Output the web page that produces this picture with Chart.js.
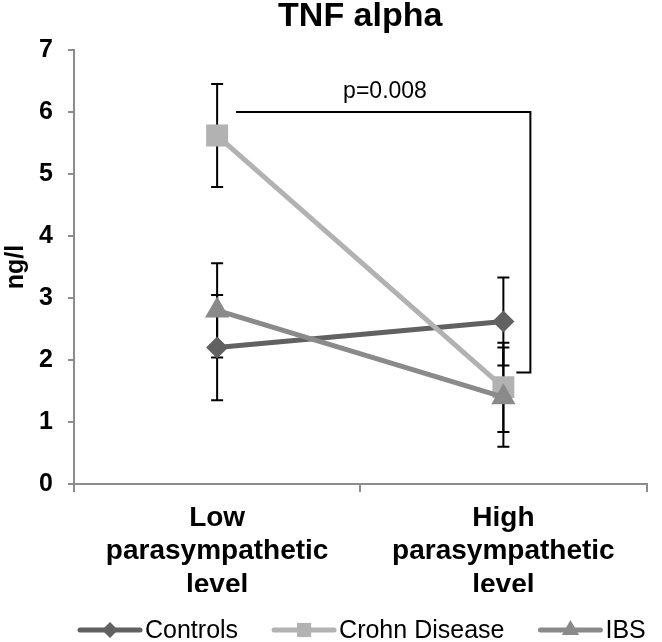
<!DOCTYPE html>
<html>
<head>
<meta charset="utf-8">
<script src="https://cdn.jsdelivr.net/npm/chart.js@4"></script>
<style>
  html, body { margin: 0; padding: 0; background: #fff; }
  .chart-container { position: relative; width: 662px; height: 642px; }
</style>
</head>
<body>
<div class="chart-container">
  <canvas id="tnf-chart"></canvas>
</div>
<script>
// values
const categories = [['Low', 'parasympathetic', 'level'], ['High', 'parasympathetic', 'level']];
const yTicks = [0, 1, 2, 3, 4, 5, 6, 7];
const controls = [2.2, 2.62];
const controlsErr = [0.85, 0.71];
const crohn = [5.62, 1.56];
const crohnErr = [0.83, 0.72];
const ibs = [2.8, 1.4];
const ibsErr = [0.76, 0.8];
const pLabel = 'p=0.008';

const FONT = 'Arial, "Liberation Sans", sans-serif';

function drawMarker(ctx, style, r, cx, cy) {
  if (style === 'rectRot') {
    ctx.moveTo(cx, cy - r); ctx.lineTo(cx + r, cy); ctx.lineTo(cx, cy + r); ctx.lineTo(cx - r, cy); ctx.closePath();
  } else if (style === 'rect') {
    const s = r * Math.SQRT1_2;
    ctx.rect(cx - s, cy - s, 2 * s, 2 * s);
  } else {
    ctx.moveTo(cx, cy - r);
    ctx.lineTo(cx + r * Math.sin(Math.PI * 2 / 3), cy - r * Math.cos(Math.PI * 2 / 3));
    ctx.lineTo(cx + r * Math.sin(Math.PI * 4 / 3), cy - r * Math.cos(Math.PI * 4 / 3));
    ctx.closePath();
  }
}

// error bars under the markers
const errorBars = {
  id: 'errorBars',
  beforeDatasetsDraw(chart) {
    const { ctx, scales: { x, y } } = chart;
    const errs = [controlsErr, crohnErr, ibsErr];
    ctx.save();
    ctx.strokeStyle = '#000';
    ctx.lineWidth = 2;
    chart.data.datasets.forEach((ds, i) => {
      ds.data.forEach((v, j) => {
        const px = x.getPixelForValue(j);
        const top = y.getPixelForValue(v + errs[i][j]);
        const bot = y.getPixelForValue(v - errs[i][j]);
        ctx.beginPath();
        ctx.moveTo(px, top); ctx.lineTo(px, bot);
        ctx.moveTo(px - 6, top); ctx.lineTo(px + 6, top);
        ctx.moveTo(px - 6, bot); ctx.lineTo(px + 6, bot);
        ctx.stroke();
      });
    });
    ctx.restore();
  }
};

// significance bracket and legend
const extras = {
  id: 'extras',
  afterDraw(chart) {
    const { ctx, scales: { x, y } } = chart;
    const x0 = x.getPixelForValue(0);
    const x1 = x.getPixelForValue(1);
    const yTop = y.getPixelForValue(6.0);
    const yBot = y.getPixelForValue(1.8);
    ctx.save();
    ctx.strokeStyle = '#000';
    ctx.lineWidth = 2;
    ctx.beginPath();
    ctx.moveTo(x0 + 19, yTop);
    ctx.lineTo(x1 + 27, yTop);
    ctx.lineTo(x1 + 27, yBot);
    ctx.lineTo(x1 + 13, yBot);
    ctx.stroke();

    ctx.fillStyle = '#000';
    ctx.font = '23px ' + FONT;
    ctx.textAlign = 'center';
    ctx.textBaseline = 'middle';
    ctx.fillText(pLabel, 385, y.getPixelForValue(6.33));

    // legend: line with marker, then label
    ctx.font = '25px ' + FONT;
    ctx.textAlign = 'left';
    const lineLen = 60, gap = 36, ly = 630;
    let lx = 80;
    chart.data.datasets.forEach(ds => {
      ctx.strokeStyle = ds.borderColor;
      ctx.lineWidth = 5;
      ctx.lineCap = 'round';
      ctx.beginPath();
      ctx.moveTo(lx, ly); ctx.lineTo(lx + lineLen, ly);
      ctx.stroke();
      ctx.fillStyle = ds.backgroundColor;
      ctx.beginPath();
      drawMarker(ctx, ds.pointStyle, ds.legendRadius, lx + lineLen / 2, ly);
      ctx.fill();
      ctx.fillStyle = '#000';
      ctx.fillText(ds.label, lx + lineLen + 5, ly + 1);
      lx += lineLen + 5 + ctx.measureText(ds.label).width + gap;
    });
    ctx.restore();
  }
};

function series(label, data, color, style, radius, legendRadius, order) {
  return {
    label, data, order, legendRadius,
    borderColor: color,
    backgroundColor: color,
    pointBackgroundColor: color,
    pointBorderColor: color,
    borderWidth: 5,
    pointStyle: style,
    pointRadius: radius,
    pointBorderWidth: 0,
    pointHoverRadius: radius,
    tension: 0
  };
}

new Chart(document.getElementById('tnf-chart'), {
  type: 'line',
  data: {
    labels: categories,
    datasets: [
      series('Controls', controls, '#616161', 'rectRot', 11, 8, 2),
      series('Crohn Disease', crohn, '#b2b2b2', 'rect', 15.5, 10, 1),
      series('IBS', ibs, '#8a8a8a', 'triangle', 14, 10, 0)
    ]
  },
  options: {
    responsive: true,
    maintainAspectRatio: false,
    animation: false,
    layout: { padding: { top: 0, left: 0, right: 6, bottom: 50 } },
    plugins: {
      legend: { display: false },
      tooltip: { enabled: false },
      title: {
        display: true,
        text: 'TNF alpha',
        fullSize: false,
        color: '#000',
        font: { family: FONT, size: 34, weight: 'bold', lineHeight: 1 },
        padding: { top: 0, bottom: 16 }
      }
    },
    scales: {
      x: {
        offset: true,
        afterFit(scale) {
          scale.height = 108;
          scale.paddingLeft = 0;
          scale.paddingRight = 0;
        },
        grid: {
          offset: true,
          drawOnChartArea: false,
          drawTicks: true,
          tickLength: 8,
          color: '#8c8c8c',
          lineWidth: 2
        },
        border: { display: true, color: '#8c8c8c', width: 2 },
        ticks: {
          color: '#000',
          padding: 9,
          maxRotation: 0,
          autoSkip: false,
          font: { family: FONT, size: 28, weight: 'bold', lineHeight: 1.2 }
        }
      },
      y: {
        min: 0,
        max: 7,
        afterFit(scale) { scale.width = 74; },
        afterBuildTicks(scale) { scale.ticks = yTicks.map(v => ({ value: v })); },
        grid: {
          drawOnChartArea: false,
          drawTicks: true,
          tickLength: 6,
          color: '#8c8c8c',
          lineWidth: 2
        },
        border: { display: true, color: '#8c8c8c', width: 2 },
        title: {
          display: true,
          text: 'ng/l',
          color: '#000',
          font: { family: FONT, size: 25, weight: 'bold' },
          padding: { top: 1, bottom: 0 }
        },
        ticks: {
          color: '#000',
          padding: 15,
          font: { family: FONT, size: 25, weight: 'bold' }
        }
      }
    }
  },
  plugins: [errorBars, extras]
});
</script>
</body>
</html>
